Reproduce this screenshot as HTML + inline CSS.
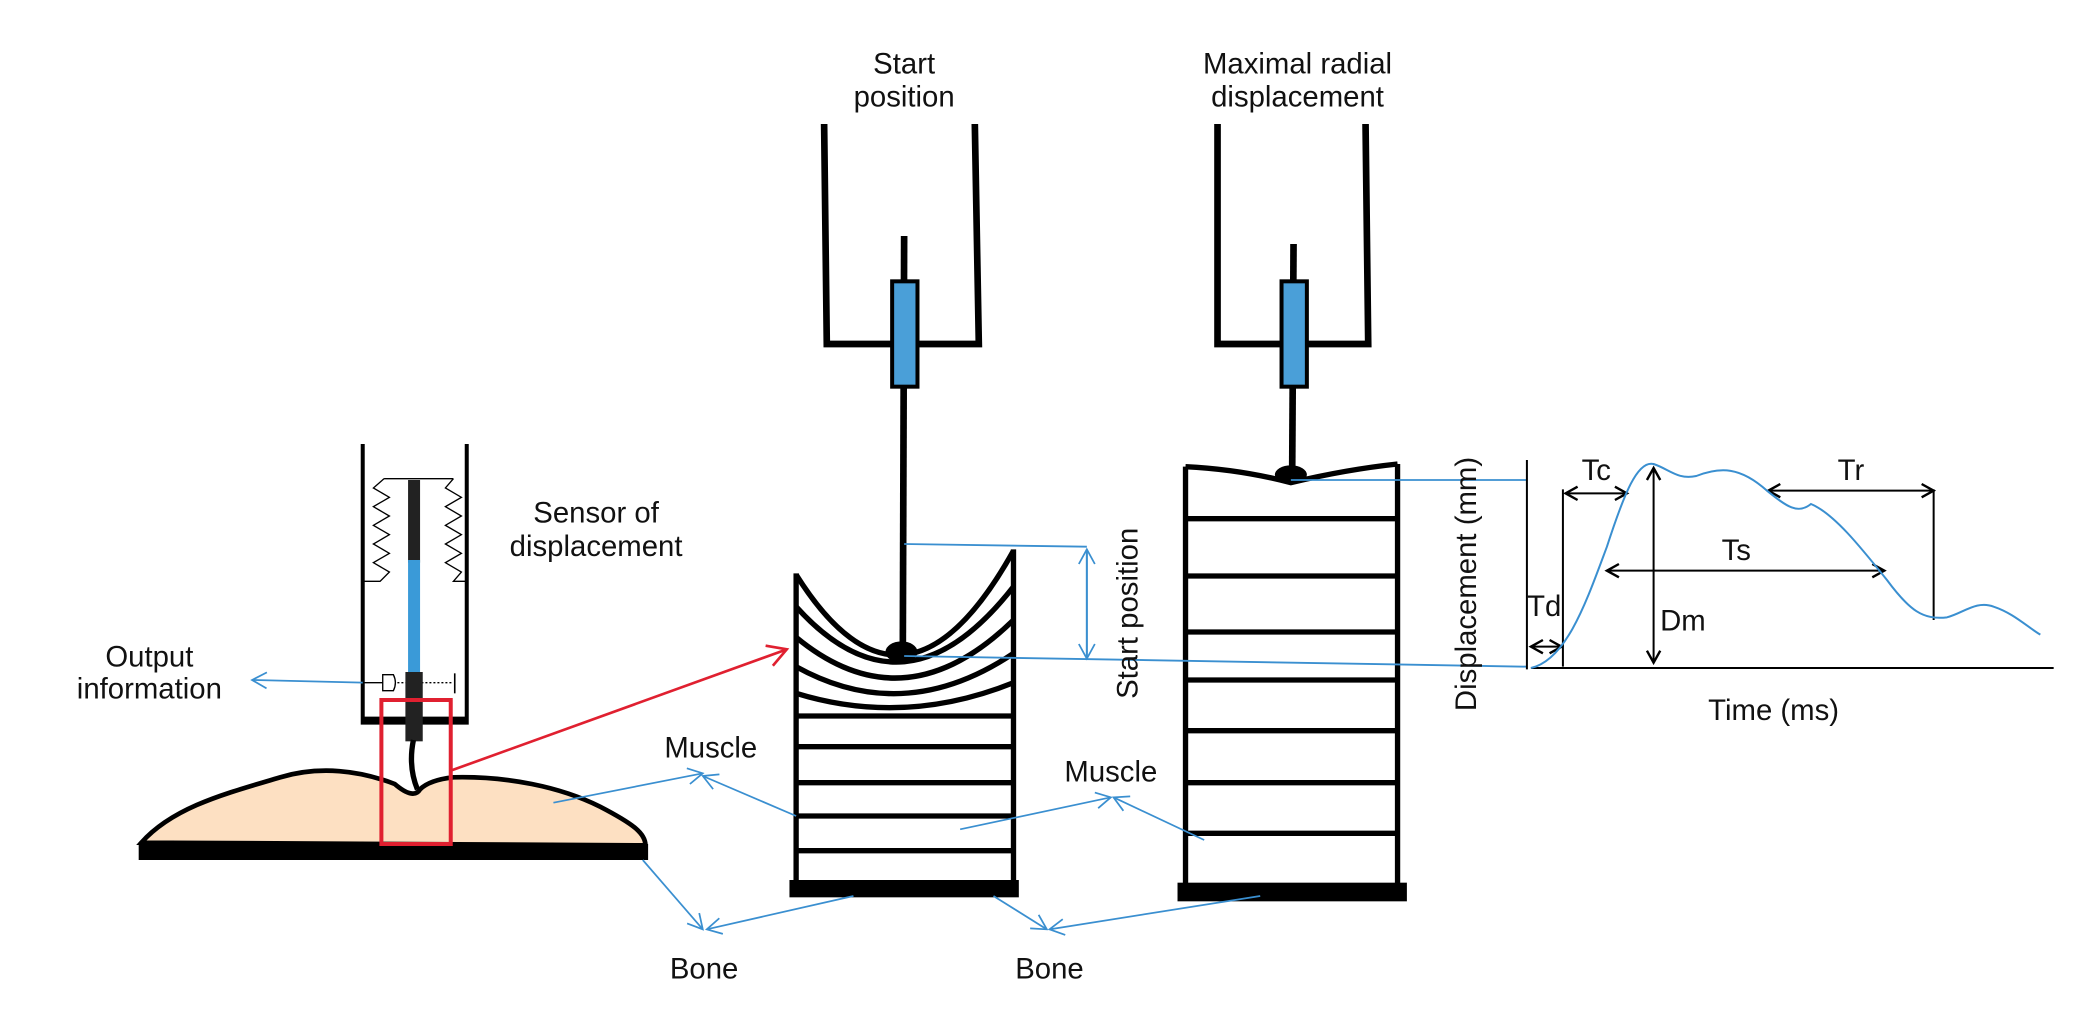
<!DOCTYPE html>
<html><head><meta charset="utf-8"><style>
html,body{margin:0;padding:0;background:#fff;}
svg{display:block}
text{font-family:"Liberation Sans",Arial,sans-serif;font-size:22px;fill:#111}
</style></head><body>
<svg width="2091" height="1012" viewBox="0 0 1568 759" preserveAspectRatio="none" xmlns="http://www.w3.org/2000/svg">
<defs>
<marker id="ob" markerWidth="14" markerHeight="14" refX="12" refY="7" orient="auto" markerUnits="userSpaceOnUse"><path d="M1,1 L12,7 L1,13" fill="none" stroke="#3a8fd0" stroke-width="1.3"/></marker>
<marker id="or" markerWidth="18" markerHeight="18" refX="15" refY="9" orient="auto" markerUnits="userSpaceOnUse"><path d="M1,1 L15,9 L1,17" fill="none" stroke="#e02030" stroke-width="2"/></marker>
<marker id="bk" markerWidth="12" markerHeight="12" refX="10" refY="6" orient="auto-start-reverse" markerUnits="userSpaceOnUse"><path d="M1,1 L10,6 L1,11" fill="none" stroke="#000" stroke-width="1.8"/></marker>
</defs>

<!-- titles -->
<text x="678" y="55" text-anchor="middle">Start</text>
<text x="678" y="80" text-anchor="middle">position</text>
<text x="973" y="55" text-anchor="middle">Maximal radial</text>
<text x="973" y="80" text-anchor="middle">displacement</text>

<!-- holder 1 -->
<g stroke="#000" stroke-width="5" fill="none">
<path d="M618,93 L620,258 L734,258 L731,93"/>
<line x1="678" y1="177" x2="677" y2="490"/>
<path d="M913,93 L913,258 L1026,258 L1024,93"/>
<line x1="970" y1="183" x2="969" y2="352"/>
</g>
<rect x="669" y="211" width="19" height="79" fill="#4a9fd8" stroke="#000" stroke-width="3"/>
<rect x="961" y="211" width="19" height="79" fill="#4a9fd8" stroke="#000" stroke-width="3"/>

<!-- column 1 -->
<g stroke="#000" stroke-width="4" fill="none">
<line x1="597" y1="430" x2="597" y2="662"/>
<line x1="760" y1="412" x2="760" y2="662"/>
<path d="M597,431 Q678,560 760,413"/>
<path d="M597,455 Q678,545 760,440"/>
<path d="M597,478 Q678,545 760,465"/>
<path d="M597,500 Q678,545 760,490"/>
<path d="M597,520 Q678,545 760,512"/>
<line x1="597" y1="537" x2="760" y2="537"/>
<line x1="597" y1="560" x2="760" y2="560"/>
<line x1="597" y1="587" x2="760" y2="587"/>
<line x1="597" y1="612" x2="760" y2="612"/>
<line x1="597" y1="638" x2="760" y2="638"/>
</g>
<rect x="592" y="660" width="172" height="13" fill="#000"/>
<ellipse cx="676" cy="489" rx="12" ry="8" fill="#000"/>

<!-- column 2 -->
<g stroke="#000" stroke-width="4" fill="none">
<line x1="889" y1="350" x2="889" y2="664"/>
<line x1="1048" y1="348" x2="1048" y2="664"/>
<path d="M889,350 Q930,352 968,362 Q1010,352 1048,348"/>
<line x1="889" y1="389" x2="1048" y2="389"/>
<line x1="889" y1="432" x2="1048" y2="432"/>
<line x1="889" y1="474" x2="1048" y2="474"/>
<line x1="889" y1="510" x2="1048" y2="510"/>
<line x1="889" y1="548" x2="1048" y2="548"/>
<line x1="889" y1="587" x2="1048" y2="587"/>
<line x1="889" y1="625" x2="1048" y2="625"/>
</g>
<rect x="883" y="662" width="172" height="14" fill="#000"/>
<ellipse cx="968" cy="356" rx="12" ry="7" fill="#000"/>

<!-- blue guide lines -->
<g stroke="#3a8fd0" stroke-width="1.4" fill="none">
<line x1="678" y1="408" x2="815" y2="410"/>
<line x1="678" y1="492" x2="1145" y2="500"/>
<line x1="968" y1="360" x2="1145" y2="360"/>
<line x1="815" y1="412" x2="815" y2="494" marker-end="url(#ob)"/>
<line x1="815" y1="494" x2="815" y2="412" marker-end="url(#ob)"/>
</g>
<text transform="translate(853,460) rotate(-90)" text-anchor="middle">Start position</text>

<!-- graph -->
<text transform="translate(1107,438) rotate(-90)" text-anchor="middle">Displacement (mm)</text>
<g stroke="#000" stroke-width="1.5" fill="none">
<line x1="1145" y1="345" x2="1145" y2="502"/>
<line x1="1148" y1="501" x2="1540" y2="501"/>
<line x1="1172" y1="367" x2="1172" y2="500"/>
<line x1="1450" y1="367" x2="1450" y2="465"/>
<line x1="1174" y1="370" x2="1220" y2="370" marker-start="url(#bk)" marker-end="url(#bk)"/>
<line x1="1148" y1="485" x2="1171" y2="485" marker-start="url(#bk)" marker-end="url(#bk)"/>
<line x1="1240" y1="351" x2="1240" y2="497" marker-start="url(#bk)" marker-end="url(#bk)"/>
<line x1="1205" y1="428" x2="1413" y2="428" marker-start="url(#bk)" marker-end="url(#bk)"/>
<line x1="1326" y1="368" x2="1450" y2="368" marker-start="url(#bk)" marker-end="url(#bk)"/>
</g>
<path d="M1148,501 C1175,495 1190,450 1205,410 C1218,370 1228,345 1240,348 C1252,352 1258,360 1272,357 C1290,350 1305,350 1325,368 C1340,380 1348,386 1358,378 C1375,385 1395,410 1415,435 C1432,458 1442,465 1460,463 C1472,460 1482,450 1495,455 C1510,460 1520,470 1530,476" fill="none" stroke="#3a8fd0" stroke-width="1.5"/>
<text x="1197" y="360" text-anchor="middle">Tc</text>
<text x="1158" y="462" text-anchor="middle">Td</text>
<text x="1262" y="473" text-anchor="middle">Dm</text>
<text x="1302" y="420" text-anchor="middle">Ts</text>
<text x="1388" y="360" text-anchor="middle">Tr</text>
<text x="1330" y="540" text-anchor="middle">Time (ms)</text>

<!-- sensor -->
<g stroke="#000" fill="none">
<path d="M272,333 L272,542 L350,542 L350,333" stroke-width="3"/>
<line x1="272" y1="540" x2="350" y2="540" stroke-width="5"/>
<line x1="288" y1="359" x2="340" y2="359" stroke-width="1"/>
<polyline points="288,359 280,366 292,373 280,380 292,387 280,394 292,401 280,408 292,415 280,422 292,429 285,436 273,436" stroke-width="1"/>
<polyline points="340,359 334,366 346,373 334,380 346,387 334,394 346,401 334,408 346,415 334,422 346,429 340,436 350,436" stroke-width="1"/>
<line x1="272" y1="512" x2="287" y2="512" stroke-width="1"/>
<path d="M287,506 L295,506 Q298,512 295,518 L287,518 Z" stroke-width="1"/>
<line x1="298" y1="512" x2="340" y2="512" stroke-width="1" stroke-dasharray="1.5,1.5"/>
<line x1="341" y1="505" x2="341" y2="520" stroke-width="1.2"/>
</g>
<rect x="306" y="360" width="9" height="62" fill="#222"/>
<rect x="306" y="420" width="9" height="84" fill="#3a9ad8"/>
<rect x="304" y="504" width="13" height="52" fill="#222"/>
<path d="M310,555 Q306,575 313,592" stroke="#000" stroke-width="4" fill="none"/>

<!-- tissue -->
<path d="M106,632 C130,605 170,595 210,583 C240,574 270,578 296,588 Q310,600 315,592 Q322,585 340,583 C380,582 420,590 450,605 C475,618 484,625 484,634 Z" fill="#fde0c2" stroke="#000" stroke-width="3.5"/>
<rect x="104" y="633" width="382" height="12" fill="#000"/>
<rect x="286" y="525" width="52" height="108" fill="none" stroke="#e02030" stroke-width="3"/>
<line x1="338" y1="578" x2="590" y2="487" stroke="#e02030" stroke-width="2" marker-end="url(#or)"/>

<text x="112" y="500" text-anchor="middle">Output</text>
<text x="112" y="524" text-anchor="middle">information</text>
<line x1="272" y1="512" x2="189" y2="510" stroke="#3a8fd0" stroke-width="1.3" marker-end="url(#ob)"/>
<text x="447" y="392" text-anchor="middle">Sensor of</text>
<text x="447" y="417" text-anchor="middle">displacement</text>

<!-- muscle/bone -->
<text x="533" y="568" text-anchor="middle">Muscle</text>
<text x="833" y="586" text-anchor="middle">Muscle</text>
<text x="528" y="734" text-anchor="middle">Bone</text>
<text x="787" y="734" text-anchor="middle">Bone</text>
<g stroke="#3a8fd0" stroke-width="1.3" fill="none">
<line x1="415" y1="602" x2="527" y2="580" marker-end="url(#ob)"/>
<line x1="597" y1="612" x2="527" y2="582" marker-end="url(#ob)"/>
<line x1="720" y1="622" x2="833" y2="598" marker-end="url(#ob)"/>
<line x1="903" y1="630" x2="835" y2="598" marker-end="url(#ob)"/>
<line x1="482" y1="645" x2="527" y2="697" marker-end="url(#ob)"/>
<line x1="640" y1="672" x2="530" y2="697" marker-end="url(#ob)"/>
<line x1="745" y1="672" x2="785" y2="697" marker-end="url(#ob)"/>
<line x1="945" y1="672" x2="787" y2="697" marker-end="url(#ob)"/>
</g>
</svg>
</body></html>
